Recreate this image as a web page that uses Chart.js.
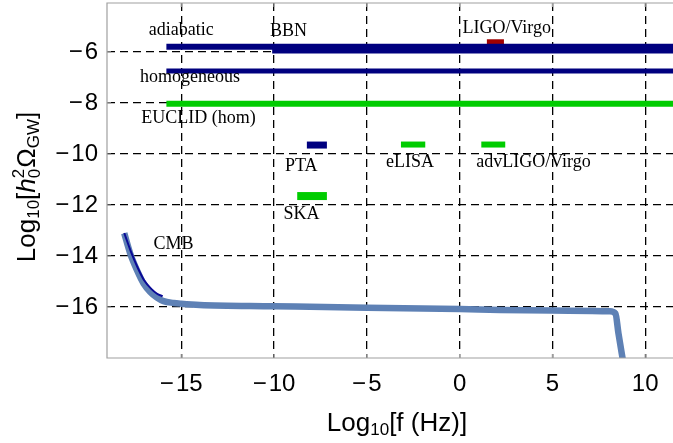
<!DOCTYPE html>
<html>
<head>
<meta charset="utf-8">
<script src="https://cdn.jsdelivr.net/npm/chart.js@4.4.1/dist/chart.umd.min.js"></script>
<style>
  html, body { margin: 0; padding: 0; background: #fff; }
  #wrap { width: 673px; height: 443px; }
</style>
</head>
<body>
<div id="wrap"><canvas id="chart" width="673" height="443"></canvas></div>
<script>
// axis ticks
const xTicks = [-15, -10, -5, 0, 5, 10];
const yTicks = [-16, -14, -12, -10, -8, -6];

// sensitivity bands / bounds: [x0, x1] at height y (log10 values)
const bandNames = ["adiabatic", "BBN", "homogeneous", "EUCLID (hom)", "LIGO/Virgo", "PTA", "SKA", "eLISA", "advLIGO/Virgo"];
const bandX0 = [-15.8, -10.1, -15.8, -15.8, 1.47, -8.23, -8.75, -3.16, 1.17];
const bandX1 = [11.5, 11.5, 11.5, 11.5, 2.39, -7.15, -7.15, -1.85, 2.46];
const bandY = [-5.8, -5.93, -6.75, -8.03, -5.6, -9.65, -11.65, -9.63, -9.63];

// GW spectrum (light blue curve)
const specX = [-18.07, -17.75, -17.39, -17.03, -16.67, -16.31, -15.95, -15.41, -15, -14, -10, -5, 0, 2.2, 5, 8.1, 8.4, 8.56, 8.78, 8.85];
const specY = [-13.11, -13.9, -14.55, -15.08, -15.41, -15.63, -15.77, -15.84, -15.87, -15.92, -15.97, -16.03, -16.08, -16.12, -16.14, -16.17, -16.26, -17.03, -18.0, -18.3];

// CMB bound (dark thin curve)
const cmbX = [-18.07, -17.7, -17.35, -17.0, -16.6, -16.3, -16.0];
const cmbY = [-13.1, -13.85, -14.45, -14.95, -15.3, -15.48, -15.58];

// annotation texts
const labelText = ["adiabatic", "BBN", "LIGO/Virgo", "homogeneous", "EUCLID (hom)", "PTA", "SKA", "eLISA", "advLIGO/Virgo", "CMB"];
const labelX = [-15.0, -9.22, 2.54, -14.53, -14.07, -8.53, -8.52, -2.67, 3.98, -15.41];
const labelY = [-5.33, -5.37, -5.27, -7.18, -8.78, -10.65, -12.56, -10.52, -10.52, -13.74];

// styles
const NAVY = "#00007f";
const GREEN = "#00cc00";
const bandColor = [NAVY, NAVY, NAVY, GREEN, "#a00000", NAVY, GREEN, GREEN, GREEN];
const bandWidth = [6, 6.5, 5, 6, 5, 7, 8, 6, 6];
const FRAME = "#a0a0a0";

const SANS = '"Liberation Sans", Arial, sans-serif';
const SERIF = '"Liberation Serif", "Times New Roman", serif';

function pts(xs, ys) {
  return xs.map((x, i) => ({ x, y: ys[i] }));
}

const datasets = [
  {
    data: pts(cmbX, cmbY),
    borderColor: "#0a0a96",
    borderWidth: 2,
    cubicInterpolationMode: "monotone",
  },
  {
    data: pts(specX, specY),
    borderColor: "#5e81b5",
    borderWidth: 6.5,
    borderJoinStyle: "round",
    cubicInterpolationMode: "monotone",
  },
];
bandNames.forEach((n, i) => {
  datasets.push({
    label: n,
    data: [{ x: bandX0[i], y: bandY[i] }, { x: bandX1[i], y: bandY[i] }],
    borderColor: bandColor[i],
    borderWidth: bandWidth[i],
    borderCapStyle: "butt",
  });
});

function fmtTick(v) {
  return v < 0 ? "\u2212\u200a" + Math.abs(v) : String(v);
}

const decorPlugin = {
  id: "decor",
  afterDatasetsDraw(chart) {
    const { ctx, chartArea: a, scales } = chart;
    const sx = scales.x;
    const sy = scales.y;

    ctx.save();
    // annotations
    ctx.fillStyle = "#000";
    ctx.font = "18px " + SERIF;
    ctx.textAlign = "center";
    ctx.textBaseline = "alphabetic";
    labelText.forEach((t, i) => {
      ctx.fillText(t, sx.getPixelForValue(labelX[i]), sy.getPixelForValue(labelY[i]));
    });

    // frame (left, top, bottom)
    ctx.strokeStyle = FRAME;
    ctx.lineWidth = 1.2;
    ctx.beginPath();
    ctx.moveTo(a.right + 2, a.top);
    ctx.lineTo(a.left, a.top);
    ctx.lineTo(a.left, a.bottom);
    ctx.lineTo(a.right + 2, a.bottom);
    ctx.stroke();
    ctx.beginPath();
    xTicks.forEach((v) => {
      const px = sx.getPixelForValue(v);
      ctx.moveTo(px, a.bottom);
      ctx.lineTo(px, a.bottom - 4);
      ctx.moveTo(px, a.top);
      ctx.lineTo(px, a.top + 4);
    });
    yTicks.forEach((v) => {
      const py = sy.getPixelForValue(v);
      ctx.moveTo(a.left, py);
      ctx.lineTo(a.left + 4, py);
    });
    ctx.stroke();

    // x title: Log10[f (Hz)]
    ctx.fillStyle = "#000";
    ctx.textAlign = "left";
    const big = "26px " + SANS;
    const small = "17px " + SANS;
    const xParts = [["Log", big, 0], ["10", small, 4], ["[f (Hz)]", big, 0]];
    let w = 0;
    xParts.forEach((p) => { ctx.font = p[1]; w += ctx.measureText(p[0]).width; });
    let cx = 397 - w / 2;
    const by = 431;
    xParts.forEach((p) => {
      ctx.font = p[1];
      ctx.fillText(p[0], cx, by + p[2]);
      cx += ctx.measureText(p[0]).width;
    });

    // y title: Log10[h0^2 ΩGW], rotated
    ctx.translate(35, 187);
    ctx.rotate(-Math.PI / 2);
    const itl = "italic 26px " + SANS;
    const seg = [
      { t: "Log", f: big, dy: 0 },
      { t: "10", f: small, dy: 4 },
      { t: "[", f: big, dy: 0 },
      { t: "h", f: itl, dy: 0 },
      { t: "2", f: small, dy: -11, stack: "0" },
      { t: "\u03a9", f: big, dy: 0 },
      { t: "GW", f: small, dy: 4 },
      { t: "]", f: big, dy: 0 },
    ];
    let tw = 0;
    seg.forEach((s) => { ctx.font = s.f; s.w = ctx.measureText(s.t).width + (s.stack ? 1 : 0); tw += s.w; });
    let tx = -tw / 2;
    seg.forEach((s) => {
      ctx.font = s.f;
      ctx.fillText(s.t, tx, s.dy);
      if (s.stack) ctx.fillText(s.stack, tx, 5);
      tx += s.w;
    });
    ctx.restore();
  },
};

new Chart(document.getElementById("chart"), {
  type: "line",
  data: { datasets },
  plugins: [decorPlugin],
  options: {
    responsive: false,
    animation: false,
    events: [],
    layout: { padding: { top: 3, right: 0, left: 0, bottom: 0 } },
    elements: { point: { radius: 0 }, line: { fill: false } },
    plugins: { legend: { display: false }, tooltip: { enabled: false } },
    scales: {
      x: {
        type: "linear",
        min: -19,
        max: 11.5,
        afterBuildTicks: (s) => { s.ticks = xTicks.map((v) => ({ value: v })); },
        afterFit: (s) => { s.height = 85; s.paddingLeft = 0; s.paddingRight = 0; },
        grid: { color: "#000", lineWidth: 1.3, drawTicks: false },
        border: { display: false, dash: [8, 5] },
        ticks: {
          padding: 12,
          color: "#000",
          font: { family: SANS, size: 24 },
          callback: fmtTick,
          maxRotation: 0,
        },
      },
      y: {
        type: "linear",
        min: -18,
        max: -4.08,
        afterBuildTicks: (s) => { s.ticks = yTicks.map((v) => ({ value: v })); },
        afterFit: (s) => { s.width = 107; s.paddingTop = 0; s.paddingBottom = 0; },
        grid: { color: "#000", lineWidth: 1.3, drawTicks: false },
        border: { display: false, dash: [8, 5] },
        ticks: {
          padding: 9,
          color: "#000",
          font: { family: SANS, size: 24 },
          callback: fmtTick,
        },
      },
    },
  },
});
</script>
</body>
</html>
